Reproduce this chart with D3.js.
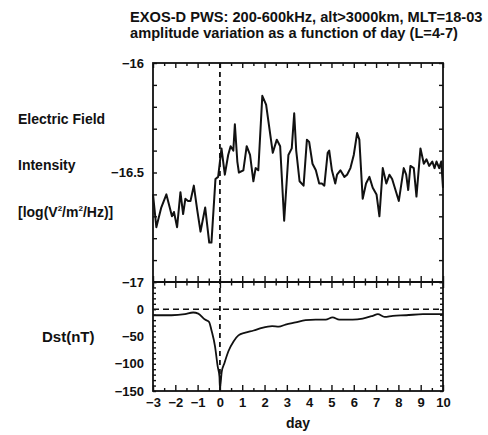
<!DOCTYPE html>
<html>
<head>
<meta charset="utf-8">
<script src="https://cdn.jsdelivr.net/npm/d3@7"></script>
<style>
  body { margin: 0; background: #fff; }
  text { font-family: "Liberation Sans", Arial, sans-serif; fill: #111; font-weight: bold; }
</style>
</head>
<body>
<div id="chart"></div>
<script>
// electric field intensity (log V^2/m^2/Hz)
var efDays = [-3.00,-2.85,-2.63,-2.40,-2.25,-2.15,-2.06,-1.92,-1.77,-1.65,-1.55,-1.43,-1.32,-1.17,-1.02,-0.87,-0.66,-0.48,-0.38,-0.20,
  -0.08,0.00,0.07,0.22,0.37,0.48,0.60,0.67,0.78,0.85,1.05,1.20,1.35,1.50,1.60,1.72,1.90,2.07,2.37,2.55,
  2.70,2.88,3.07,3.22,3.33,3.42,3.57,3.75,3.90,4.00,4.15,4.30,4.45,4.57,4.68,4.83,4.90,5.02,5.17,5.25,
  5.40,5.58,5.70,5.85,6.00,6.15,6.25,6.40,6.55,6.70,6.85,7.02,7.15,7.30,7.46,7.60,7.72,8.02,8.24,8.35,
  8.44,8.54,8.69,8.81,8.99,9.14,9.26,9.38,9.52,9.62,9.71,9.83,9.92,10.0];
var efValues = [-16.60,-16.75,-16.66,-16.60,-16.66,-16.70,-16.68,-16.75,-16.59,-16.69,-16.62,-16.63,-16.63,-16.56,-16.67,-16.77,-16.66,-16.82,-16.82,-16.53,
  -16.52,-16.45,-16.39,-16.51,-16.42,-16.38,-16.40,-16.28,-16.45,-16.50,-16.49,-16.38,-16.42,-16.54,-16.48,-16.49,-16.15,-16.19,-16.41,-16.35,
  -16.38,-16.72,-16.42,-16.39,-16.23,-16.40,-16.54,-16.56,-16.35,-16.36,-16.46,-16.49,-16.55,-16.55,-16.56,-16.41,-16.40,-16.49,-16.55,-16.51,
  -16.49,-16.52,-16.51,-16.48,-16.42,-16.32,-16.35,-16.62,-16.55,-16.52,-16.57,-16.60,-16.70,-16.48,-16.55,-16.51,-16.53,-16.63,-16.48,-16.51,
  -16.58,-16.47,-16.48,-16.61,-16.39,-16.46,-16.44,-16.47,-16.45,-16.48,-16.45,-16.48,-16.45,-16.57];

// Dst index (nT)
var dstDays = [-3,-2.17,-1.57,-1.2,-0.97,-0.67,-0.49,-0.37,-0.22,-0.1,-0.02,0.0,0.08,0.2,0.38,0.61,0.83,1.14,1.51,1.89,
  2.34,2.64,2.94,3.39,3.84,4.29,4.74,5.05,5.35,5.95,6.4,6.85,7.08,7.38,7.75,8.35,9.1,9.56,10];
var dstValues = [-11,-11,-9,-6,-8,-19,-23,-40,-68,-105,-124,-145,-115,-99,-77,-59,-48,-43,-39,-34,
  -31,-32,-28,-24,-20,-19,-19,-15,-19,-19,-17,-12,-9,-14,-12,-11,-9,-9,-9];

var dayTicks = d3.range(-3, 11, 1);
var halfTicks = d3.range(-2.5, 10, 1);
var efTicks = d3.range(-17, -15.95, 0.1).map(d => Math.round(d*10)/10);
var dstTicks = d3.range(-150, 51, 10);
var dstLabels = [0, -50, -100, -150];

var svgWidth = 488, svgHeight = 435;
var plot = {left: 153, right: 443, top: 63, mid: 282, bottom: 391};

var svg = d3.select("#chart").append("svg")
    .attr("width", svgWidth)
    .attr("height", svgHeight);

var x = d3.scaleLinear().domain([-3, 10]).range([plot.left, plot.right]);
var yEf = d3.scaleLinear().domain([-17, -16]).range([plot.mid, plot.top]);
var yDst = d3.scaleLinear().domain([-150, 50]).range([plot.bottom, plot.mid]);

var fmt = d3.format("");

function tidy(g) {
  g.select(".domain").remove();
  g.selectAll("line").attr("stroke", "#111").attr("stroke-width", 1.4);
  g.selectAll("text").attr("fill", "#111").attr("font-size", 13);
}

// top axis of upper panel (ticks inward)
svg.append("g").attr("transform", "translate(0," + plot.top + ")")
    .call(d3.axisTop(x).tickValues(dayTicks).tickSize(-5).tickFormat("")).call(tidy);
svg.append("g").attr("transform", "translate(0," + plot.top + ")")
    .call(d3.axisTop(x).tickValues(halfTicks).tickSize(-3).tickFormat("")).call(tidy);

// middle line, ticks cross both ways
[[dayTicks, 6], [halfTicks, 3.5]].forEach(function(t) {
  svg.append("g").attr("transform", "translate(0," + plot.mid + ")")
      .call(d3.axisTop(x).tickValues(t[0]).tickSize(t[1]).tickFormat("")).call(tidy);
  svg.append("g").attr("transform", "translate(0," + plot.mid + ")")
      .call(d3.axisBottom(x).tickValues(t[0]).tickSize(t[1]).tickFormat("")).call(tidy);
});

// bottom axis
svg.append("g").attr("transform", "translate(0," + plot.bottom + ")")
    .call(d3.axisBottom(x).tickValues(dayTicks).tickSize(-6).tickPadding(7).tickFormat(fmt)).call(tidy);
svg.append("g").attr("transform", "translate(0," + plot.bottom + ")")
    .call(d3.axisBottom(x).tickValues(halfTicks).tickSize(-3).tickFormat("")).call(tidy);

// left / right of upper panel
svg.append("g").attr("transform", "translate(" + plot.left + ",0)")
    .call(d3.axisLeft(yEf).tickValues(efTicks).tickSize(-4).tickPadding(9)
      .tickFormat(d => Math.abs(d*2 - Math.round(d*2)) < 1e-6 ? fmt(d) : "")).call(tidy);
svg.append("g").attr("transform", "translate(" + plot.right + ",0)")
    .call(d3.axisRight(yEf).tickValues(efTicks).tickSize(-4).tickFormat("")).call(tidy);

// left / right of lower panel
svg.append("g").attr("transform", "translate(" + plot.left + ",0)")
    .call(d3.axisLeft(yDst).tickValues(dstTicks).tickSize(-3).tickPadding(9)
      .tickFormat(d => dstLabels.indexOf(d) >= 0 ? fmt(d) : "")).call(tidy);
svg.append("g").attr("transform", "translate(" + plot.right + ",0)")
    .call(d3.axisRight(yDst).tickValues(dstTicks).tickSize(-3).tickFormat("")).call(tidy);

// frames
svg.append("rect")
    .attr("x", plot.left).attr("y", plot.top)
    .attr("width", plot.right - plot.left).attr("height", plot.bottom - plot.top)
    .attr("fill", "none").attr("stroke", "#111").attr("stroke-width", 1.8);
svg.append("line")
    .attr("x1", plot.left).attr("x2", plot.right)
    .attr("y1", plot.mid).attr("y2", plot.mid)
    .attr("stroke", "#111").attr("stroke-width", 1.8);

// dashed reference lines
svg.append("line")
    .attr("x1", x(0)).attr("x2", x(0))
    .attr("y1", plot.top).attr("y2", plot.bottom)
    .attr("stroke", "#111").attr("stroke-width", 1.8).attr("stroke-dasharray", "5,4");
svg.append("line")
    .attr("x1", plot.left).attr("x2", plot.right)
    .attr("y1", yDst(0)).attr("y2", yDst(0))
    .attr("stroke", "#111").attr("stroke-width", 1.6).attr("stroke-dasharray", "6,4");

// data lines
var efLine = d3.line().x((d, i) => x(efDays[i])).y(d => yEf(d));
svg.append("path").datum(efValues)
    .attr("d", efLine)
    .attr("fill", "none").attr("stroke", "#111").attr("stroke-width", 2)
    .attr("stroke-linejoin", "round");

var dstLine = d3.line().x((d, i) => x(dstDays[i])).y(d => yDst(d)).curve(d3.curveMonotoneX);
svg.append("path").datum(dstValues)
    .attr("d", dstLine)
    .attr("fill", "none").attr("stroke", "#111").attr("stroke-width", 1.8);

// titles and labels
var t1 = svg.append("text").attr("x", 130).attr("y", 22).attr("font-size", 14)
    .text("EXOS-D PWS: 200-600kHz, alt>3000km, MLT=18-03");
var t2 = svg.append("text").attr("x", 130).attr("y", 38).attr("font-size", 14)
    .text("amplitude variation as a function of day (L=4-7)");
// scale both title lines so line 1 spans the same width as the original
var k = 353 / t1.node().getComputedTextLength();
t1.attr("font-size", 14 * k);
t2.attr("font-size", 14 * k);

svg.append("text").attr("x", 18).attr("y", 124).attr("font-size", 14).text("Electric Field");
svg.append("text").attr("x", 18).attr("y", 170).attr("font-size", 14).text("Intensity");
var unit = svg.append("text").attr("x", 18).attr("y", 217).attr("font-size", 14);
unit.append("tspan").text("[log(V");
unit.append("tspan").attr("font-size", 8).attr("dy", -6).text("2");
unit.append("tspan").attr("dy", 6).text("/m");
unit.append("tspan").attr("font-size", 8).attr("dy", -6).text("2");
unit.append("tspan").attr("dy", 6).text("/Hz)]");

svg.append("text").attr("x", 42).attr("y", 342).attr("font-size", 15).text("Dst(nT)");
svg.append("text").attr("x", x(3.5)).attr("y", 428).attr("font-size", 14)
    .attr("text-anchor", "middle").text("day");
</script>
</body>
</html>
